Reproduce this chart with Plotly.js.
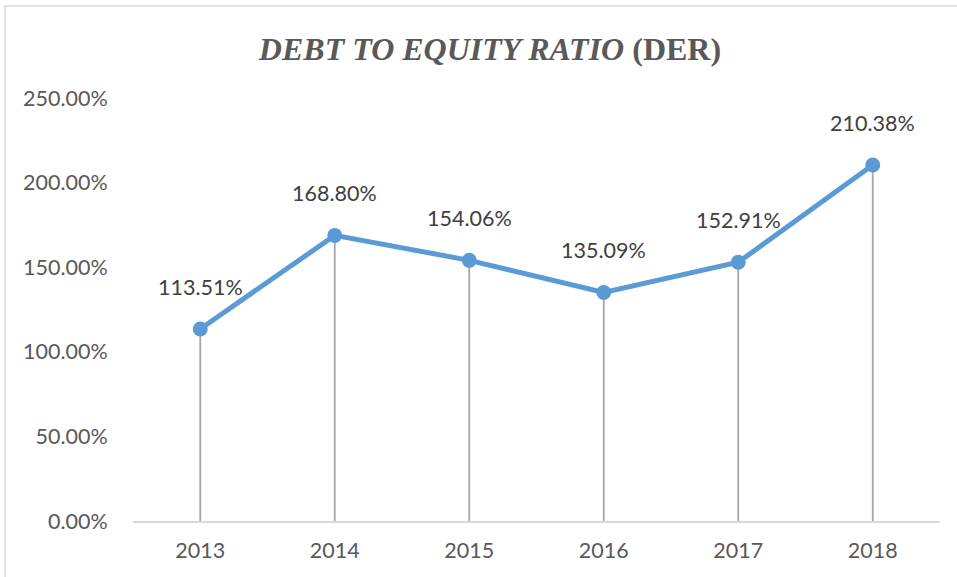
<!DOCTYPE html>
<html>
<head>
<meta charset="utf-8">
<script src="https://cdn.plot.ly/plotly-3.0.1.min.js"></script>
<style>html,body{margin:0;padding:0;background:#fff;}#chart{width:957px;height:577px;}</style>
</head>
<body>
<div id="chart"></div>
<script>
const years = ['2013', '2014', '2015', '2016', '2017', '2018'];
const derValues = [113.51, 168.80, 154.06, 135.09, 152.91, 210.38];
const derLabels = ['113.51%', '168.80%', '154.06%', '135.09%', '152.91%', '210.38%'];
const yTickValues = [0, 50, 100, 150, 200, 250];
const yTickLabels = ['0.00%', '50.00%', '100.00%', '150.00%', '200.00%', '250.00%'];

const labelFont = {family: 'Lato, "Open Sans", sans-serif', size: 21.5, color: '#595959'};

const dropLines = {
  x: years, y: derValues, type: 'scatter', mode: 'markers',
  marker: {size: 1, color: 'rgba(0,0,0,0)'},
  error_y: {type: 'data', symmetric: false, array: derValues.map(() => 0), arrayminus: derValues,
            color: '#a6a6a6', thickness: 1.8, width: 0},
  hoverinfo: 'skip', showlegend: false
};
const line = {
  x: years, y: derValues, type: 'scatter', mode: 'lines+markers',
  line: {color: '#5b9bd5', width: 5},
  marker: {color: '#5b9bd5', size: 15},
  showlegend: false
};

const annotations = years.map((yr, i) => ({
  x: i, y: derValues[i], xref: 'x', yref: 'y', text: derLabels[i],
  showarrow: false, yshift: 42, font: {family: labelFont.family, size: 21.5, color: '#404040'}
}));

const layout = {
  width: 957, height: 577,
  margin: {l: 133, r: 17, t: 98, b: 56},
  paper_bgcolor: '#ffffff', plot_bgcolor: '#ffffff',
  title: {
    text: '<b><i>DEBT TO EQUITY RATIO</i> (DER)</b>',
    font: {family: '"Liberation Serif", "Times New Roman", serif', size: 32, color: '#595959'},
    x: 0.512, xanchor: 'center', y: 0.915, yanchor: 'middle'
  },
  xaxis: {
    type: 'category', range: [-0.5, 5.5],
    showline: true, linecolor: '#d9d9d9', linewidth: 1.5,
    showgrid: false, zeroline: false,
    ticks: 'outside', ticklen: 10, tickcolor: 'rgba(0,0,0,0)',
    tickfont: labelFont, tickangle: 0, fixedrange: true
  },
  yaxis: {
    range: [0, 250], tickvals: yTickValues, ticktext: yTickLabels,
    showline: false, showgrid: false, zeroline: false,
    ticks: 'outside', ticklen: 20, tickcolor: 'rgba(0,0,0,0)',
    tickfont: labelFont, fixedrange: true
  },
  shapes: [{
    type: 'rect', xref: 'paper', yref: 'paper', layer: 'below',
    x0: (5 - 133) / 807, x1: 1.1, y0: -0.3, y1: (521 - 6) / 423,
    line: {color: '#d9d9d9', width: 1.5}, fillcolor: 'rgba(0,0,0,0)'
  }],
  annotations: annotations
};

Plotly.newPlot('chart', [dropLines, line], layout, {displayModeBar: false, staticPlot: true});
</script>
</body>
</html>
